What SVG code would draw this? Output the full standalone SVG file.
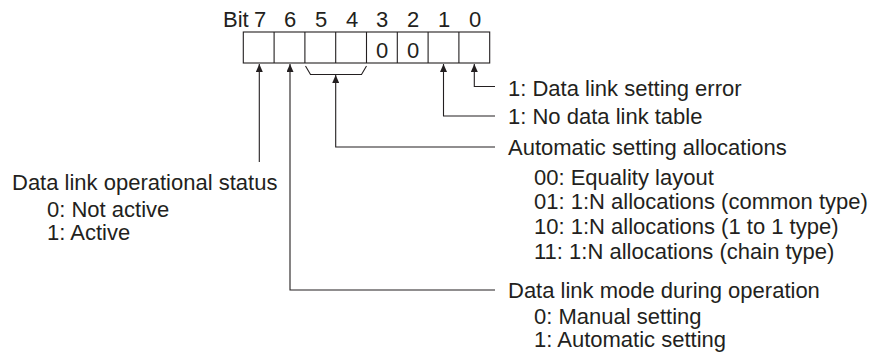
<svg xmlns="http://www.w3.org/2000/svg" width="877" height="353" viewBox="0 0 877 353">
<style>
text{font-family:"Liberation Sans",Arial,sans-serif;font-size:22px;fill:#231f20}
.c{text-anchor:middle}
.ln{fill:none;stroke:#231f20;stroke-width:1.1}
.box{fill:#fff;stroke:#231f20;stroke-width:1.1}
</style>
<defs>
<marker id="ah" viewBox="0 0 8 7" refX="8" refY="3.5" markerWidth="8" markerHeight="7" markerUnits="userSpaceOnUse" orient="auto-start-reverse">
<path d="M0,0 L8,3.5 L0,7 Z" fill="#231f20"/>
</marker>
</defs>
<rect width="877" height="353" fill="#fff"/>
<g id="register">
<text x="223" y="27">Bit</text>
<text class="c" x="260" y="27">7</text>
<text class="c" x="290" y="27">6</text>
<text class="c" x="321" y="27">5</text>
<text class="c" x="352" y="27">4</text>
<text class="c" x="382" y="27">3</text>
<text class="c" x="413" y="27">2</text>
<text class="c" x="444" y="27">1</text>
<text class="c" x="475" y="27">0</text>
<rect class="box" x="243.3" y="32" width="246.4" height="31"/>
<path class="ln" d="M274.1,32V63M304.9,32V63M335.7,32V63M366.5,32V63M397.3,32V63M428.1,32V63M458.9,32V63"/>
<text class="c" x="382" y="58">0</text>
<text class="c" x="413" y="58">0</text>
</g>
<g id="connectors">
<path class="ln" d="M474.3,64V86.5H495" marker-start="url(#ah)"/>
<path class="ln" d="M443.5,64V116H495" marker-start="url(#ah)"/>
<path class="ln" d="M305.5,66L310.5,74.5H361.5L366.5,66"/>
<path class="ln" d="M335.7,75V147H495" marker-start="url(#ah)"/>
<path class="ln" d="M290,64V290H495" marker-start="url(#ah)"/>
<path class="ln" d="M259.3,64V162" marker-start="url(#ah)"/>
</g>
<g id="bit0">
<text x="508" y="96">1: Data link setting error</text>
</g>
<g id="bit1">
<text x="508" y="124">1: No data link table</text>
</g>
<g id="bits54">
<text x="508" y="155">Automatic setting allocations</text>
<text x="534" y="185">00: Equality layout</text>
<text x="534" y="209">01: 1:N allocations (common type)</text>
<text x="534" y="234">10: 1:N allocations (1 to 1 type)</text>
<text x="534" y="259">11: 1:N allocations (chain type)</text>
</g>
<g id="bit6">
<text x="508" y="298">Data link mode during operation</text>
<text x="534" y="324">0: Manual setting</text>
<text x="534" y="347">1: Automatic setting</text>
</g>
<g id="bit7">
<text x="12" y="190">Data link operational status</text>
<text x="47" y="217">0: Not active</text>
<text x="47" y="240">1: Active</text>
</g>
</svg>
